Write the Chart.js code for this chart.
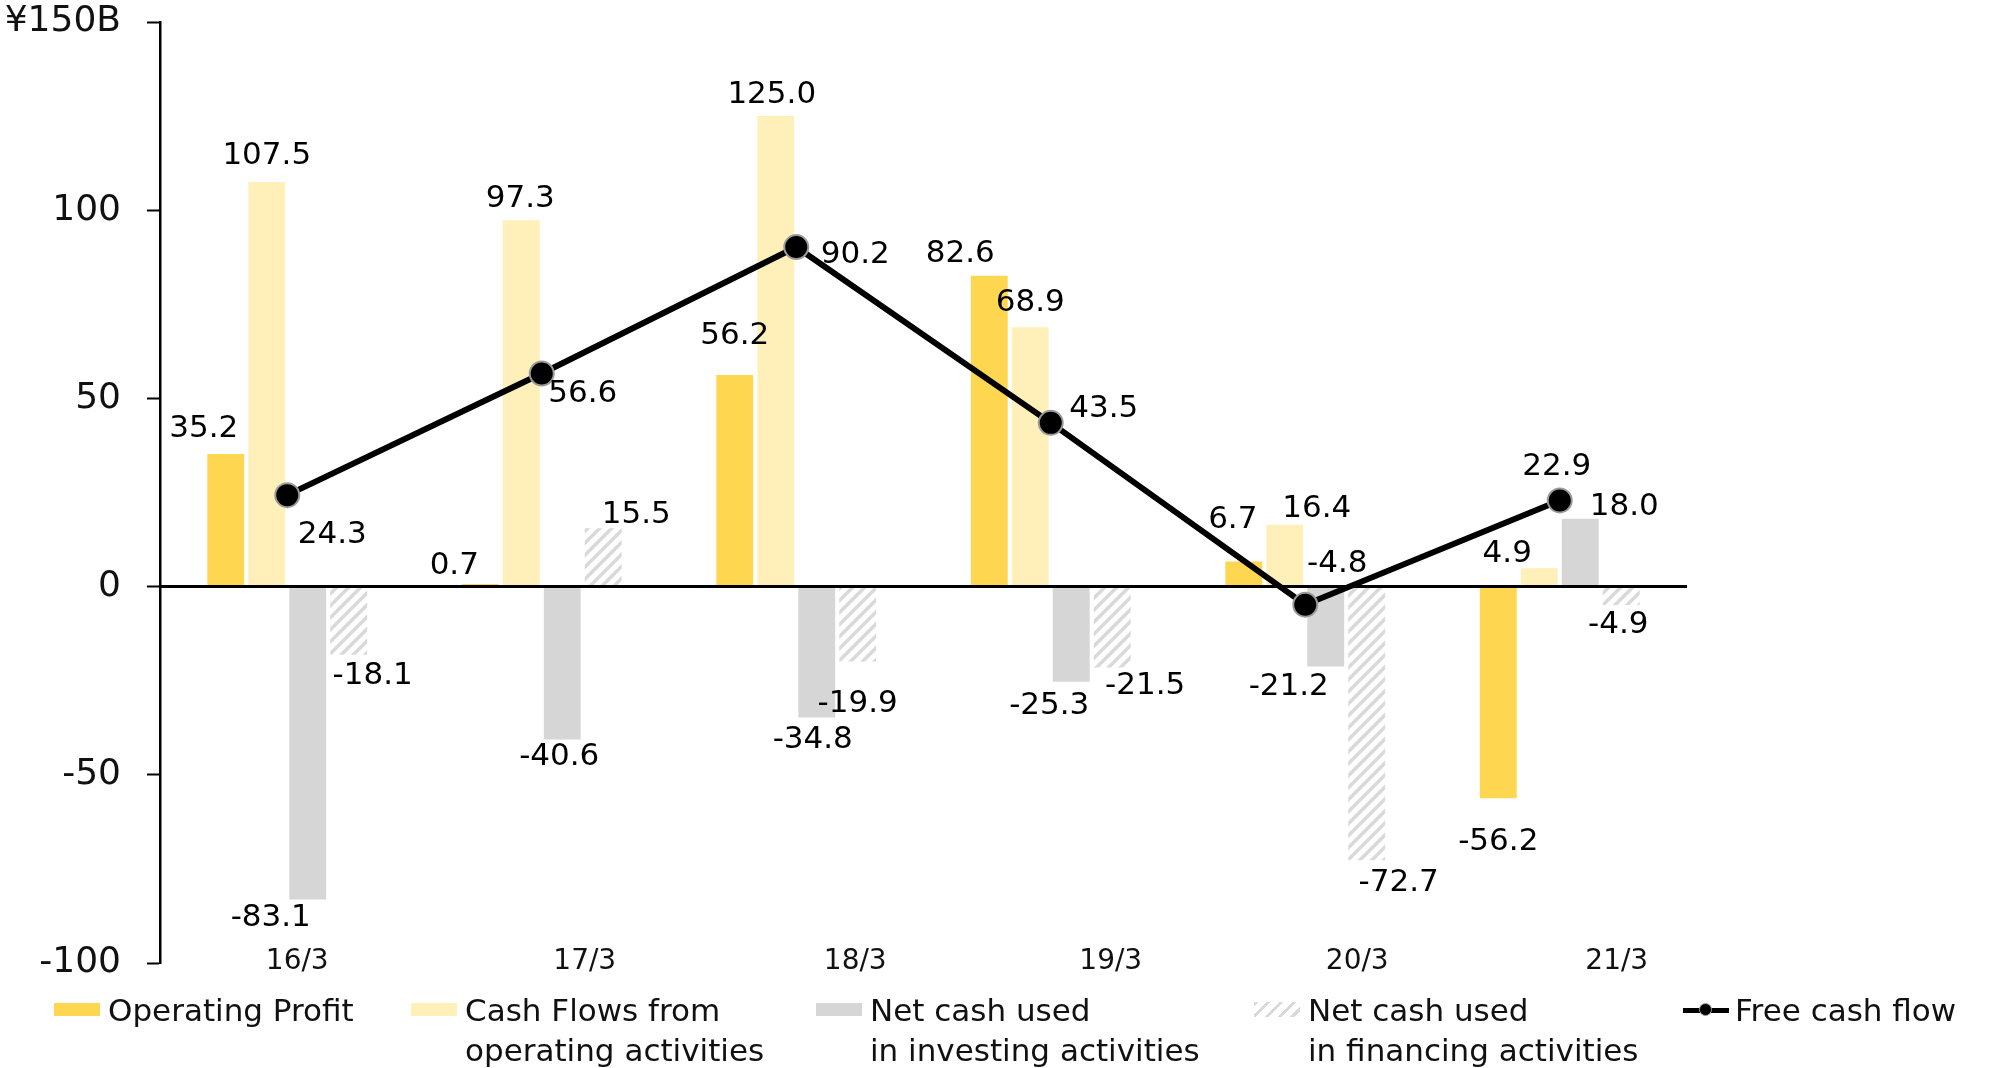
<!DOCTYPE html>
<html>
<head>
<meta charset="utf-8">
<script src="https://cdn.jsdelivr.net/npm/chart.js@4.4.1/dist/chart.umd.min.js"></script>
<style>
  html, body { margin: 0; padding: 0; background: #fff; }
  #wrap { position: relative; width: 1991px; height: 1068px; font-family: 'DejaVu Sans', Verdana, sans-serif; }
  #legend .item { position: absolute; top: 990px; display: flex; align-items: flex-start;
                  font-size: 31px; line-height: 40px; color: #111; white-space: pre; }
  #legend .swatch { width: 46px; height: 13px; margin-top: 13px; margin-right: 8px; flex: none; }
  #legend .hatch { background: repeating-linear-gradient(135deg, #d9d9d9 0 3px, #fff 3px 9px); height: 15px; margin-top: 12px; }
  #legend .lineicon { position: relative; width: 46px; height: 40px; margin-right: 6px; flex: none; }
  #legend .lineicon::before { content: ''; position: absolute; left: 0; right: 0; top: 18px; height: 5px; background: #000; }
  #legend .lineicon i { position: absolute; left: 16px; top: 13px; width: 11px; height: 11px; border-radius: 50%;
                        background: #000; border: 1.5px solid #999; }
</style>
</head>
<body>
<div id="wrap">
  <canvas id="cf-chart" width="1991" height="1068"></canvas>
  <div id="legend"></div>
</div>
<script>
// ── Data (¥ billions) ─────────────────────────────────────────────────────────

const periods         = ['16/3', '17/3', '18/3', '19/3', '20/3', '21/3'];
const operatingProfit = [35.2, 0.7, 56.2, 82.6, 6.7, -56.2];
const operatingCF     = [107.5, 97.3, 125.0, 68.9, 16.4, 4.9];
const investingCF     = [-83.1, -40.6, -34.8, -25.3, -21.2, 18.0];
const financingCF     = [-18.1, 15.5, -19.9, -21.5, -72.7, -4.9];
const freeCF          = [24.3, 56.6, 90.2, 43.5, -4.8, 22.9];
const yTickLabels     = { 150: '¥150B' };

const seriesNames = [
  'Operating Profit',
  'Cash Flows from\noperating activities',
  'Net cash used\nin investing activities',
  'Net cash used\nin financing activities',
  'Free cash flow',
];

// ── Layout tweaks ─────────────────────────────────────────────────────────────

// where each value label sits relative to the bar end / point (px)
const labelNudge = [
  [[-22, -25], [-26, -18], [0, -39], [-29, -22], [-11, -41], [0, 44]],
  [[0, -26], [-1, -21], [-4, -21], [0, -24], [32, -16], [-32, -14]],
  [[-37, 19], [-3, 18], [-4, 22], [-22, 24], [-37, 21], [44, -12]],
  [[24, 21], [33, -13], [0, 42], [33, 18], [32, 23], [-3, 20]],
  [[45, 40], [41, 20], [59, 8], [53, -14], [32, -41], [-3, -33]],
];
const periodShift = [10, 43, 59, 60, 52, 57];
const legendLeft  = [54, 411, 816, 1254, 1683];

const FONT   = "'DejaVu Sans', Verdana, sans-serif";
const GOLD   = '#FFD64F';
const CREAM  = '#FFEFB8';
const GREY   = '#D6D6D6';

function hatchPattern() {
  const s = 12;
  const c = document.createElement('canvas');
  c.width = s; c.height = s;
  const g = c.getContext('2d');
  g.fillStyle = '#fff';
  g.fillRect(0, 0, s, s);
  g.strokeStyle = '#d9d9d9';
  g.lineWidth = 3.5;
  g.beginPath();
  g.moveTo(0, s); g.lineTo(s, 0);
  g.moveTo(-s / 2, s / 2); g.lineTo(s / 2, -s / 2);
  g.moveTo(s / 2, s * 1.5); g.lineTo(s * 1.5, s / 2);
  g.stroke();
  return g.createPattern(c, 'repeat');
}

// ── Plugin: zero line, value labels, period labels ────────────────────────────

const cashflowDecor = {
  id: 'cashflowDecor',
  beforeDatasetDraw(chart, args) {
    if (args.index !== 4) return;
    const { ctx, chartArea, scales: { y } } = chart;
    const y0 = y.getPixelForValue(0);
    ctx.save();
    ctx.strokeStyle = '#000';
    ctx.lineWidth = 3;
    ctx.beginPath();
    ctx.moveTo(chartArea.left, y0);
    ctx.lineTo(chartArea.right, y0);
    ctx.stroke();
    ctx.restore();
  },
  afterDatasetsDraw(chart) {
    const { ctx, chartArea, scales: { x } } = chart;
    ctx.save();
    ctx.fillStyle = '#000';
    ctx.textAlign = 'center';
    ctx.textBaseline = 'middle';
    ctx.font = `31px ${FONT}`;
    chart.data.datasets.forEach((ds, i) => {
      chart.getDatasetMeta(i).data.forEach((el, j) => {
        const [dx, dy] = labelNudge[i][j];
        ctx.fillText(ds.data[j].toFixed(1), el.x + dx, el.y + dy);
      });
    });
    ctx.font = `28px ${FONT}`;
    ctx.fillStyle = '#111';
    periods.forEach((p, j) => ctx.fillText(p, x.getPixelForValue(j) + periodShift[j], chartArea.bottom - 1));
    ctx.restore();
  }
};

// ── Chart ─────────────────────────────────────────────────────────────────────

const ctx = document.getElementById('cf-chart').getContext('2d');
const HATCH = hatchPattern();

new Chart(ctx, {
  type: 'bar',
  data: {
    labels: periods,
    datasets: [
      { label: seriesNames[0], data: operatingProfit, backgroundColor: GOLD,  order: 1 },
      { label: seriesNames[1], data: operatingCF,     backgroundColor: CREAM, order: 1 },
      { label: seriesNames[2], data: investingCF,     backgroundColor: GREY,  order: 1 },
      { label: seriesNames[3], data: financingCF,     backgroundColor: HATCH, order: 1 },
      {
        type: 'line',
        label: seriesNames[4],
        data: freeCF,
        borderColor: '#000',
        borderWidth: 6,
        tension: 0,
        pointRadius: 12,
        pointBackgroundColor: '#000',
        pointBorderColor: '#9a9a9a',
        pointBorderWidth: 2,
        order: 0,
      },
    ]
  },
  options: {
    responsive: false,
    animation: false,
    layout: { padding: { top: 22, right: 304, bottom: 105, left: 0 } },
    datasets: { bar: { categoryPercentage: 0.644, barPercentage: 0.9 } },
    plugins: { legend: { display: false }, tooltip: { enabled: false } },
    scales: {
      x: { display: false },
      y: {
        min: -100,
        max: 150,
        afterFit: s => { s.width = 160; s.paddingTop = 0; s.paddingBottom = 0; },
        border: { display: true, color: '#000', width: 2.5 },
        grid: { drawOnChartArea: false, drawTicks: true, tickLength: 13, tickColor: '#000', tickWidth: 2 },
        ticks: {
          stepSize: 50,
          padding: 26,
          color: '#111',
          font: { family: FONT, size: 36 },
          callback: v => yTickLabels[v] || String(v),
        }
      }
    }
  },
  plugins: [cashflowDecor]
});

// ── Legend ────────────────────────────────────────────────────────────────────

const swatchClass = ['swatch', 'swatch', 'swatch', 'swatch hatch', null];
const swatchColor = [GOLD, CREAM, GREY, null, null];
const legend = document.getElementById('legend');
seriesNames.forEach((name, i) => {
  const item = document.createElement('div');
  item.className = 'item';
  item.style.left = legendLeft[i] + 'px';
  const mark = document.createElement('span');
  if (swatchClass[i]) {
    mark.className = swatchClass[i];
    if (swatchColor[i]) mark.style.background = swatchColor[i];
  } else {
    mark.className = 'lineicon';
    mark.appendChild(document.createElement('i'));
  }
  const text = document.createElement('span');
  text.textContent = name;
  item.appendChild(mark);
  item.appendChild(text);
  legend.appendChild(item);
});
</script>
</body>
</html>
